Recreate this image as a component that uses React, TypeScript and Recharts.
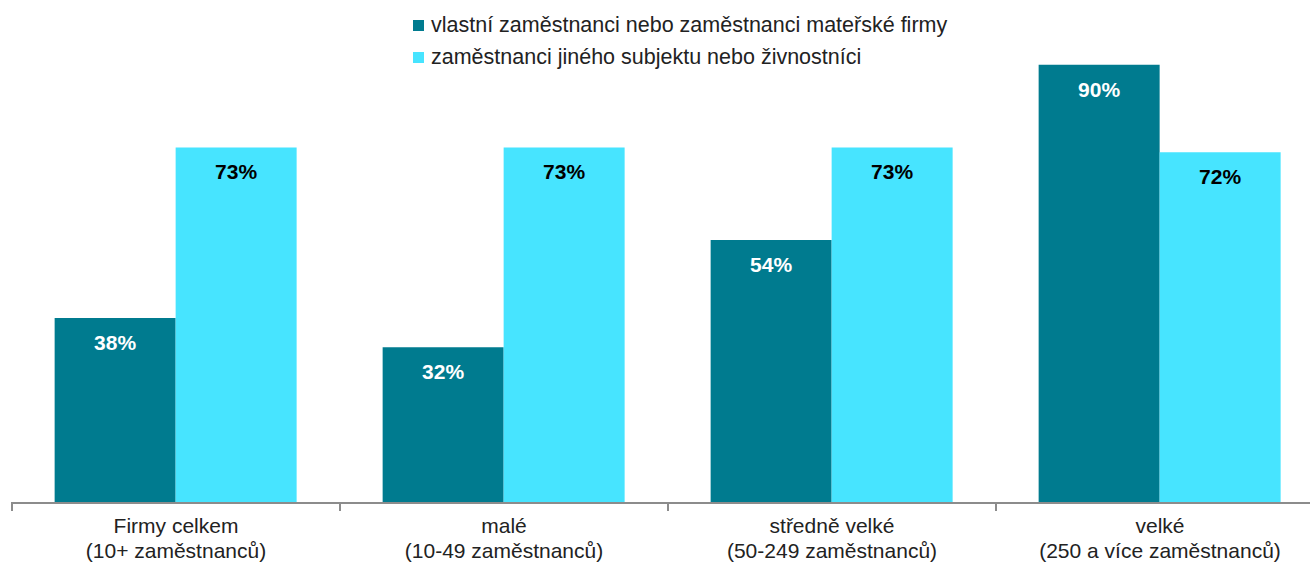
import React from 'react';
import { Bar, BarChart, LabelList, XAxis, YAxis } from 'recharts';

const categories = [
  ['Firmy celkem', '(10+ zaměstnanců)'],
  ['malé', '(10-49 zaměstnanců)'],
  ['středně velké', '(50-249 zaměstnanců)'],
  ['velké', '(250 a více zaměstnanců)'],
];
const ownStaff = [38, 32, 54, 90];
const otherStaff = [73, 73, 73, 72];
const seriesNames = [
  'vlastní zaměstnanci nebo zaměstnanci mateřské firmy',
  'zaměstnanci jiného subjektu nebo živnostníci',
];

const DARK = '#007b8f';
const LIGHT = '#47e4ff';
const FONT = '"Liberation Sans", Arial, sans-serif';

const data = categories.map((c, i) => ({
  name: c.join('\n'),
  own: ownStaff[i],
  other: otherStaff[i],
}));

function CategoryTick(props: any) {
  const { x, y, payload, width, visibleTicksCount } = props;
  const band = width / visibleTicksCount;
  const lines = String(payload.value).split('\n');
  return (
    <g>
      <line x1={x - band / 2} x2={x - band / 2} y1={y - 9} y2={y} stroke="#8c8c8c" strokeWidth={2} />
      <text x={x} y={y} textAnchor="middle" fill="#222" fontSize={21} fontFamily={FONT}>
        <tspan x={x} dy={22}>{lines[0]}</tspan>
        <tspan x={x} dy={25}>{lines[1]}</tspan>
      </text>
    </g>
  );
}

function LegendBox() {
  const items = [
    { color: DARK, label: seriesNames[0] },
    { color: LIGHT, label: seriesNames[1] },
  ];
  return (
    <div style={{ position: 'absolute', left: 413, top: 9, fontFamily: FONT, fontSize: 21.5, color: '#222' }}>
      {items.map((it) => (
        <div key={it.label} style={{ display: 'flex', alignItems: 'center', height: 32, whiteSpace: 'nowrap' }}>
          <span style={{ width: 11, height: 11, background: it.color, marginRight: 7, display: 'inline-block' }} />
          <span>{it.label}</span>
        </div>
      ))}
    </div>
  );
}

export default function App() {
  return (
    <div style={{ position: 'absolute', left: 0, top: 0, width: 1310, height: 565, overflow: 'hidden', background: '#fff' }}>
      <BarChart
        width={1340}
        height={565}
        data={data}
        margin={{ top: 16, right: 16, left: 12, bottom: 0 }}
        barCategoryGap="13%"
        barGap={0}
      >
        <XAxis
          dataKey="name"
          tick={<CategoryTick />}
          tickLine={false}
          axisLine={{ stroke: '#8c8c8c', strokeWidth: 2 }}
          interval={0}
          height={62}
        />
        <YAxis hide domain={[0, 100]} />
        <Bar dataKey="own" fill={DARK} isAnimationActive={false}>
          <LabelList
            dataKey="own"
            position="insideTop"
            offset={17}
            formatter={(v: any) => `${v}%`}
            fill="#fff"
            fontSize={21}
            fontWeight="bold"
            fontFamily={FONT}
          />
        </Bar>
        <Bar dataKey="other" fill={LIGHT} isAnimationActive={false}>
          <LabelList
            dataKey="other"
            position="insideTop"
            offset={17}
            formatter={(v: any) => `${v}%`}
            fill="#000"
            fontSize={21}
            fontWeight="bold"
            fontFamily={FONT}
          />
        </Bar>
      </BarChart>
      <LegendBox />
    </div>
  );
}
